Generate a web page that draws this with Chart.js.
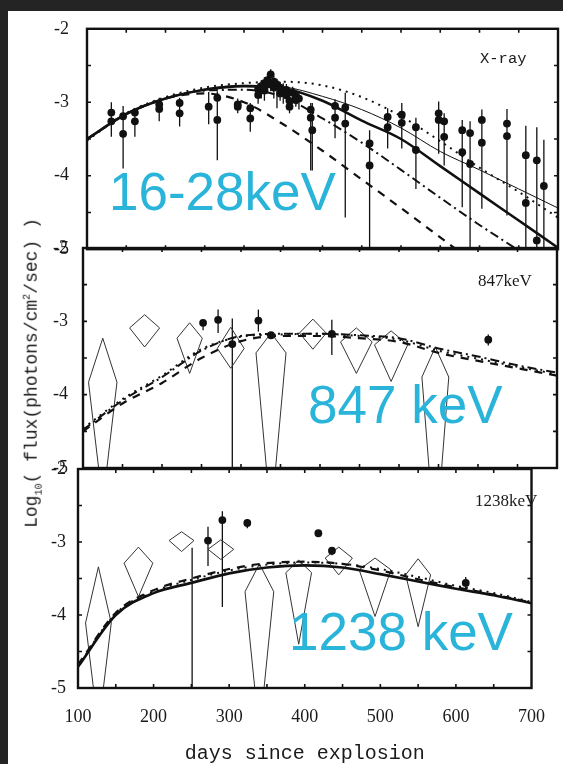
<!DOCTYPE html>
<html>
<head>
<meta charset="utf-8">
<script src="https://cdn.jsdelivr.net/npm/chart.js@4.4.0/dist/chart.umd.min.js"></script>
<style>
  html, body { margin: 0; padding: 0; background: #242424; }
  #page { position: relative; width: 563px; height: 764px; overflow: hidden; }
  #sheet { position: absolute; left: 8px; top: 11px; right: 0; bottom: 0; background: #fff; }
  canvas { position: absolute; left: 0; }
  .tag { position: absolute; font-family: 'Liberation Serif', serif; font-size: 17px; line-height: 1; color: #1a1a1a; white-space: nowrap; }
  .band { position: absolute; font-family: 'Liberation Sans', Arial, sans-serif; font-size: 53px; line-height: 1; color: #2ab4d9; white-space: nowrap; }
  #ylabel { position: absolute; left: 33px; top: 373px; transform: translate(-50%, -50%) rotate(-90deg);
            font-family: 'Liberation Mono', monospace; font-size: 18px; color: #1a1a1a; white-space: nowrap; }
  #ylabel sub { font-size: 10px; }
  #ylabel sup { font-size: 10px; }
</style>
</head>
<body>
<div id="page">
  <div id="sheet"></div>
  <canvas id="xray"></canvas>
  <canvas id="kev847"></canvas>
  <canvas id="kev1238"></canvas>
  <div id="ylabel">Log<sub>10</sub>( flux(photons/cm<sup>2</sup>/sec) )</div>
  <div class="tag" style="left:480px; top:52px; font-family:'Liberation Mono', monospace; font-size:15.5px;">X-ray</div>
  <div class="tag" style="left:478px; top:272px;">847keV</div>
  <div class="tag" style="left:475px; top:492px;">1238keV</div>
  <div class="band" style="left:109px; top:165px;">16-28keV</div>
  <div class="band" style="left:308px; top:378px;">847 keV</div>
  <div class="band" style="left:289px; top:605px;">1238 keV</div>
</div>
<script>
// =========================
//  DATA
// =========================
const dayTicks = [100, 200, 300, 400, 500, 600, 700];
const fluxTicks = [-5, -4, -3, -2];
const modelDays = [100, 150, 200, 250, 300, 350, 400, 450, 500, 550, 600, 650, 700];

// X-ray (16-28 keV) model curves
const xraySolid   = [-3.50, -3.16, -2.95, -2.83, -2.78, -2.81, -2.98, -3.25, -3.50, -3.87, -4.24, -4.61, -4.98];
const xrayThin    = [-3.50, -3.16, -2.95, -2.82, -2.77, -2.79, -2.92, -3.10, -3.35, -3.67, -3.92, -4.18, -4.44];
const xrayDotted  = [-3.52, -3.15, -2.93, -2.80, -2.74, -2.72, -2.77, -2.93, -3.19, -3.53, -3.89, -4.22, -4.57];
const xrayDashDot = [-3.50, -3.16, -2.95, -2.84, -2.83, -2.93, -3.22, -3.55, -3.92, -4.30, -4.67, -5.02, -5.40];
const xrayDashed  = [-3.50, -3.16, -2.95, -2.88, -3.00, -3.30, -3.66, -4.05, -4.44, -4.84, -5.24, -5.64, -6.04];

// X-ray measurements (two readings share one error bar)
const xrayDays   = [131, 146, 161, 192, 218, 255, 266, 292, 308, 318, 322, 326, 330, 334, 338, 342, 346, 350, 354, 358,
                    362, 366, 370, 385, 387, 416, 429, 460, 483, 501, 519, 548, 555, 578, 588, 603, 635, 659, 673, 682];
const xrayFluxA  = [-3.14, -3.19, -3.14, -3.03, -3.01, -3.06, -2.94, -3.03, -3.08, -2.82, -2.78, -2.74, -2.70, -2.62, -2.72, -2.76, -2.80, -2.84, -2.83, -2.98,
                    -2.87, -2.92, -2.95, -3.10, -3.38, -3.05, -3.07, -3.56, -3.20, -3.17, -3.34, -3.15, -3.26, -3.38, -3.42, -3.24, -3.29, -3.72, -3.79, -4.14];
const xrayFluxB  = [-3.26, -3.43, -3.26, -3.09, -3.15, null, -3.24, -3.06, -3.22, -2.90, null, -2.84, null, -2.75, -2.80, null, -2.88, null, -2.90, -3.06,
                    null, -2.97, null, -3.21, null, -3.21, -3.29, -3.86, -3.34, -3.28, -3.65, -3.24, -3.47, -3.68, -3.84, -3.55, -3.46, -4.37, -4.88, null];
const xrayBarTop = [-3.00, -3.05, -3.10, -2.94, -2.94, -2.86, -2.85, -2.95, -3.01, -2.74, -2.70, -2.66, -2.62, -2.55, -2.64, -2.68, -2.72, -2.74, -2.75, -2.85,
                    -2.79, -2.84, -2.86, -3.01, -3.01, -2.96, -2.87, -3.38, -3.08, -3.01, -3.21, -2.99, -3.15, -3.24, -3.26, -3.10, -3.09, -3.32, -3.34, -3.51];
const xrayBarBot = [-3.47, -3.90, -3.47, -3.26, -3.33, -3.30, -3.79, -3.15, -3.40, -3.02, -2.95, -2.98, -2.88, -2.85, -2.95, -3.08, -2.98, -3.02, -3.00, -3.15,
                    -3.02, -3.06, -3.10, -3.93, -3.93, -3.49, -4.57, -5.20, -3.63, -3.63, -4.18, -3.70, -3.86, -4.43, -5.20, -4.45, -4.54, -5.20, -5.20, -5.20];

// 847 keV model curves
const k847DashDot = [-4.48, -4.08, -3.76, -3.40, -3.20, -3.17, -3.17, -3.19, -3.23, -3.37, -3.48, -3.60, -3.70];
const k847Dashed  = [-4.50, -4.12, -3.84, -3.50, -3.27, -3.20, -3.20, -3.23, -3.28, -3.43, -3.54, -3.64, -3.74];
const k847Dotted  = [-4.46, -4.06, -3.74, -3.38, -3.21, -3.18, -3.17, -3.20, -3.25, -3.40, -3.51, -3.62, -3.72];

// 847 keV measurements
const p847Days   = [252, 271, 289, 322, 338, 415, 613];
const p847Flux   = [-3.02, -2.98, -3.31, -2.99, -3.19, -3.17, -3.25];
const p847BarTop = [-2.98, -2.84, -2.96, -2.84, -3.19, -2.98, -3.18];
const p847BarBot = [-3.12, -3.16, -5.20, -3.14, -3.19, -3.46, -3.33];

// 847 keV diamonds (top / widest / bottom, half width in days)
const d847Days = [125, 178, 235, 287, 338, 391, 446, 490, 546];
const d847Top  = [-3.23, -2.91, -3.02, -3.08, -3.16, -2.97, -3.09, -3.13, -3.35];
const d847Mid  = [-3.83, -3.09, -3.23, -3.37, -3.43, -3.16, -3.28, -3.32, -3.76];
const d847Bot  = [-5.48, -3.35, -3.71, -3.64, -5.69, -3.38, -3.71, -3.82, -6.10];
const d847Half = [18, 19, 16, 17, 19, 17, 20, 21, 17];

// 1238 keV model curves
const k1238Solid  = [-4.71, -4.00, -3.70, -3.56, -3.43, -3.35, -3.32, -3.35, -3.44, -3.54, -3.64, -3.73, -3.84];
const k1238Dashed = [-4.68, -3.97, -3.66, -3.50, -3.37, -3.29, -3.27, -3.30, -3.39, -3.51, -3.62, -3.72, -3.83];
const k1238Dotted = [-4.70, -3.98, -3.68, -3.52, -3.39, -3.31, -3.28, -3.30, -3.37, -3.48, -3.60, -3.70, -3.82];

// 1238 keV measurements (first one is a bar only)
const p1238Days   = [251, 272, 291, 324, 418, 436, 613];
const p1238Flux   = [null, -2.98, -2.70, -2.74, -2.88, -3.12, -3.56];
const p1238BarTop = [-3.08, -2.79, -2.58, -2.69, -2.88, -3.08, -3.48];
const p1238BarBot = [-5.20, -3.33, -3.89, -2.81, -2.88, -3.18, -3.64];

// 1238 keV diamonds
const d1238Days = [127, 180, 237, 289, 340, 392, 445, 493, 550];
const d1238Top  = [-3.34, -3.07, -2.86, -2.97, -3.30, -3.25, -3.07, -3.22, -3.23];
const d1238Mid  = [-4.11, -3.29, -2.98, -3.10, -3.68, -3.42, -3.22, -3.38, -3.45];
const d1238Bot  = [-5.56, -3.75, -3.13, -3.24, -5.63, -4.40, -3.45, -4.02, -4.16];
const d1238Half = [17, 19, 16.5, 17, 19, 17, 18, 21, 16.5];

// =========================
//  LINE STYLES
// =========================
const INK = '#111';
const lineStyles = {
    solid:   { borderWidth: 2.6, borderDash: [] },
    thin:    { borderWidth: 1,   borderDash: [] },
    dotted:  { borderWidth: 2,   borderDash: [2, 5] },
    dashDot: { borderWidth: 2,   borderDash: [9, 4, 2, 4] },
    dashed:  { borderWidth: 2.2, borderDash: [8, 7] }
};

function curve(values, style) {
    return Object.assign({
        data: modelDays.map((d, i) => ({ x: d, y: values[i] })),
        showLine: true,
        pointRadius: 0,
        borderColor: INK,
        borderCapStyle: 'butt',
        cubicInterpolationMode: 'monotone',
        fill: false
    }, lineStyles[style]);
}

function dots(days, values) {
    const pts = [];
    days.forEach((d, i) => { if (values[i] !== null) pts.push({ x: d, y: values[i] }); });
    return {
        data: pts,
        showLine: false,
        pointRadius: 3.9,
        pointBackgroundColor: INK,
        pointBorderWidth: 0
    };
}

// =========================
//  ONE PANEL
// =========================
function panelChart(id, box, datasets, bars, kites, withAxis) {
    const canvas = document.getElementById(id);
    const canvasTop = box.areaTop - 30;
    const canvasBottom = withAxis ? 764 : box.areaBottom + 30;
    canvas.width = 563;
    canvas.height = canvasBottom - canvasTop;
    canvas.style.top = canvasTop + 'px';

    const marks = {
        id: 'marks',
        beforeDatasetsDraw(chart) {
            const { ctx, chartArea: a, scales: { x, y } } = chart;
            ctx.save();
            ctx.beginPath();
            ctx.rect(a.left, a.top, a.right - a.left, a.bottom - a.top);
            ctx.clip();
            // error bars
            ctx.strokeStyle = INK;
            ctx.lineWidth = 1.3;
            bars.days.forEach((d, i) => {
                const px = x.getPixelForValue(d);
                ctx.beginPath();
                ctx.moveTo(px, y.getPixelForValue(bars.top[i]));
                ctx.lineTo(px, y.getPixelForValue(bars.bot[i]));
                ctx.stroke();
            });
            // diamonds
            if (kites) {
                ctx.strokeStyle = '#333';
                ctx.lineWidth = 1;
                kites.days.forEach((d, i) => {
                    const yMid = y.getPixelForValue(kites.mid[i]);
                    ctx.beginPath();
                    ctx.moveTo(x.getPixelForValue(d), y.getPixelForValue(kites.top[i]));
                    ctx.lineTo(x.getPixelForValue(d + kites.half[i]), yMid);
                    ctx.lineTo(x.getPixelForValue(d), y.getPixelForValue(kites.bot[i]));
                    ctx.lineTo(x.getPixelForValue(d - kites.half[i]), yMid);
                    ctx.closePath();
                    ctx.stroke();
                });
            }
            ctx.restore();
        },
        afterDraw(chart) {
            const { ctx, chartArea: a, scales: { x, y } } = chart;
            ctx.save();
            ctx.strokeStyle = INK;
            ctx.lineWidth = 2.4;
            ctx.strokeRect(a.left, a.top, a.right - a.left, a.bottom - a.top);
            ctx.lineWidth = 1.6;
            ctx.beginPath();
            for (let d = 150; d < 700; d += 50) {
                const px = x.getPixelForValue(d);
                ctx.moveTo(px, a.top); ctx.lineTo(px, a.top + 4);
                ctx.moveTo(px, a.bottom); ctx.lineTo(px, a.bottom - 4);
            }
            for (let v = -4.5; v < -2; v += 0.5) {
                const py = y.getPixelForValue(v);
                ctx.moveTo(a.left, py); ctx.lineTo(a.left + 4, py);
                ctx.moveTo(a.right, py); ctx.lineTo(a.right - 4, py);
            }
            ctx.stroke();
            ctx.restore();
        }
    };

    const chart = new Chart(canvas, {
        type: 'scatter',
        data: { datasets: datasets },
        plugins: [marks],
        options: {
            responsive: false,
            animation: false,
            events: [],
            layout: { padding: { top: 0, bottom: 0, left: 0, right: 563 - box.right } },
            plugins: { legend: { display: false }, tooltip: { enabled: false } },
            scales: {
                x: {
                    type: 'linear', min: 100, max: 700,
                    display: withAxis,
                    grid: { display: false, drawTicks: false },
                    border: { display: false },
                    afterBuildTicks: s => { s.ticks = dayTicks.map(v => ({ value: v })); },
                    afterFit: s => { if (withAxis) s.height = 76; },
                    ticks: {
                        padding: 18, color: '#1a1a1a', maxRotation: 0, autoSkip: false,
                        font: { family: "'Liberation Serif', serif", size: 18 }
                    },
                    title: {
                        display: withAxis, text: 'days since explosion', color: '#1a1a1a', padding: 0,
                        font: { family: "'Liberation Mono', monospace", size: 20, lineHeight: 1 }
                    }
                },
                y: {
                    min: -5, max: -2,
                    grid: { display: false, drawTicks: false },
                    border: { display: false },
                    afterBuildTicks: s => { s.ticks = fluxTicks.map(v => ({ value: v })); },
                    afterFit: s => { s.width = box.left; },
                    ticks: {
                        padding: box.labelPad, color: '#1a1a1a',
                        font: { family: "'Liberation Serif', serif", size: 18 }
                    }
                }
            }
        }
    });

    // nudge the layout padding until the plot frame sits where the scan has it
    const wantTop = box.areaTop - canvasTop;
    const wantBottom = box.areaBottom - canvasTop;
    let padTop = 0, padBottom = 0;
    for (let k = 0; k < 20; k++) {
        const a = chart.chartArea;
        const dTop = wantTop - a.top;
        const dBottom = a.bottom - wantBottom;
        if (Math.abs(dTop) < 0.5 && Math.abs(dBottom) < 0.5) break;
        padTop = Math.max(0, padTop + dTop);
        padBottom = Math.max(0, padBottom + dBottom);
        chart.options.layout.padding = { top: padTop, bottom: padBottom, left: 0, right: 563 - box.right };
        chart.update();
    }
    return chart;
}

// =========================
//  BUILD THE THREE PANELS
// =========================
panelChart('xray',
    { areaTop: 30, areaBottom: 248, left: 87, right: 558, labelPad: 18 },
    [
        curve(xraySolid, 'solid'),
        curve(xrayThin, 'thin'),
        curve(xrayDotted, 'dotted'),
        curve(xrayDashDot, 'dashDot'),
        curve(xrayDashed, 'dashed'),
        dots(xrayDays, xrayFluxA),
        dots(xrayDays, xrayFluxB)
    ],
    { days: xrayDays, top: xrayBarTop, bot: xrayBarBot },
    null, false);

panelChart('kev847',
    { areaTop: 248, areaBottom: 468, left: 83, right: 557, labelPad: 15 },
    [
        curve(k847DashDot, 'dashDot'),
        curve(k847Dashed, 'dashed'),
        curve(k847Dotted, 'dotted'),
        dots(p847Days, p847Flux)
    ],
    { days: p847Days, top: p847BarTop, bot: p847BarBot },
    { days: d847Days, top: d847Top, mid: d847Mid, bot: d847Bot, half: d847Half },
    false);

panelChart('kev1238',
    { areaTop: 469, areaBottom: 688, left: 78, right: 552, labelPad: 12 },
    [
        curve(k1238Solid, 'solid'),
        curve(k1238Dashed, 'dashed'),
        curve(k1238Dotted, 'dotted'),
        dots(p1238Days, p1238Flux)
    ],
    { days: p1238Days, top: p1238BarTop, bot: p1238BarBot },
    { days: d1238Days, top: d1238Top, mid: d1238Mid, bot: d1238Bot, half: d1238Half },
    true);
</script>
</body>
</html>
